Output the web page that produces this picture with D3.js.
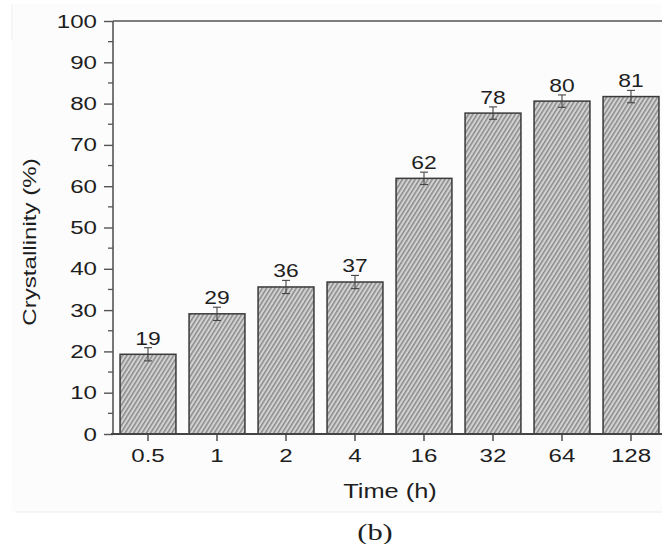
<!DOCTYPE html>
<html>
<head>
  <meta charset="utf-8" />
  <title>Crystallinity vs time</title>
  <script src="https://d3js.org/d3.v7.min.js"></script>
</head>
<body>
  <div id='graph'></div>
</body>
<style>
  body { margin: 0; background: #fff; }
  svg { display: block; }
  text { font-family: 'Liberation Sans', Arial, sans-serif; fill: #1e1e1e; }
</style>
<script>
  // data
  var times = ['0.5', '1', '2', '4', '16', '32', '64', '128']
  var crystallinity = [19.3, 29.1, 35.6, 36.8, 61.9, 77.7, 80.6, 81.7]
  var errors = [1.6, 1.6, 1.6, 1.6, 1.5, 1.5, 1.5, 1.5]
  var barLabels = ['19', '29', '36', '37', '62', '78', '80', '81']
  var yTicks = [0, 10, 20, 30, 40, 50, 60, 70, 80, 90, 100]

  var W = 662, H = 544
  var plotLeft = 113, plotTop = 21, plotBottom = 434
  var stretch = 1.27   // the scanned figure is wider than tall

  const svg = d3.select('#graph').append('svg')
    .attr('width', W)
    .attr('height', H)

  // faint scan background
  svg.append('rect')
    .attr('x', 12).attr('y', 4).attr('width', W - 12).attr('height', 508)
    .attr('fill', '#fcfcfc')
  svg.append('line')
    .attr('x1', 15).attr('x2', W).attr('y1', 512).attr('y2', 512)
    .attr('stroke', '#ececec').attr('stroke-width', 1)
  svg.append('line')
    .attr('x1', 12).attr('x2', 12).attr('y1', 4).attr('y2', 40)
    .attr('stroke', '#eeeeee').attr('stroke-width', 1)

  // hatch pattern for bars
  const defs = svg.append('defs')
  const pat = defs.append('pattern')
    .attr('id', 'hatch')
    .attr('patternUnits', 'userSpaceOnUse')
    .attr('width', 3.6).attr('height', 3.6)
    .attr('patternTransform', 'rotate(-58)')
  pat.append('rect').attr('width', 3.6).attr('height', 3.6).attr('fill', '#d2d2d2')
  pat.append('rect').attr('width', 3.6).attr('height', 1.5).attr('fill', '#8a8a8a')

  var x = d3.scaleBand()
    .domain(times)
    .range([113.5, 665.5])
    .paddingInner(0.19)
    .paddingOuter(0.095)

  var y = d3.scaleLinear()
    .domain([0, 100])
    .range([plotBottom, plotTop])

  // stretched text helper
  function label(px, py, str, size, rotate) {
    return svg.append('text')
      .attr('transform', 'translate(' + px + ',' + py + ')' + (rotate ? ' rotate(-90)' : '') + ' scale(' + stretch + ',1)')
      .attr('text-anchor', 'middle')
      .attr('font-size', size)
      .text(str)
  }

  // top frame line
  svg.append('line')
    .attr('x1', plotLeft).attr('x2', W).attr('y1', plotTop).attr('y2', plotTop)
    .attr('stroke', '#555').attr('stroke-width', 1.6)

  // bars
  svg.selectAll('rect.bar')
    .data(crystallinity)
    .enter()
    .append('rect')
    .attr('class', 'bar')
    .attr('x', function (d, i) { return x(times[i]) })
    .attr('y', function (d) { return y(d) })
    .attr('width', x.bandwidth())
    .attr('height', function (d) { return y(0) - y(d) })
    .attr('fill', 'url(#hatch)')
    .attr('stroke', '#3a3a3a')
    .attr('stroke-width', 1.5)

  // error bars
  const err = svg.append('g').attr('stroke', '#444').attr('stroke-width', 1.1)
  crystallinity.forEach(function (d, i) {
    var cx = x(times[i]) + x.bandwidth() / 2
    err.append('line')
      .attr('x1', cx).attr('x2', cx)
      .attr('y1', y(d - errors[i])).attr('y2', y(d + errors[i]))
    ;[d - errors[i], d + errors[i]].forEach(function (v) {
      err.append('line')
        .attr('x1', cx - 4).attr('x2', cx + 4)
        .attr('y1', y(v)).attr('y2', y(v))
    })
  })

  // value labels
  crystallinity.forEach(function (d, i) {
    label(x(times[i]) + x.bandwidth() / 2, y(d + errors[i]) - 3, barLabels[i], 18)
  })

  // y axis
  const yAxis = svg.append('g')
    .attr('transform', 'translate(' + plotLeft + ',0)')
    .call(d3.axisLeft(y).tickValues(yTicks).tickSize(9).tickPadding(5))
  yAxis.select('.domain').attr('stroke', '#555').attr('stroke-width', 1.6)
    .attr('d', 'M0,' + plotTop + 'V' + plotBottom)
  yAxis.selectAll('.tick line').attr('stroke', '#555').attr('stroke-width', 1.4)
  yAxis.selectAll('.tick text')
    .attr('font-size', 19)
    .attr('font-family', "'Liberation Sans', Arial, sans-serif").attr('fill', '#1e1e1e')
    .attr('x', -16 / stretch)
    .attr('transform', 'scale(' + stretch + ',1)')

  // minor ticks
  svg.append('g')
    .selectAll('line')
    .data(d3.range(5, 100, 10))
    .enter()
    .append('line')
    .attr('x1', plotLeft - 5).attr('x2', plotLeft)
    .attr('y1', function (d) { return y(d) })
    .attr('y2', function (d) { return y(d) })
    .attr('stroke', '#555').attr('stroke-width', 1.3)

  // x axis
  const xAxis = svg.append('g')
    .attr('transform', 'translate(0,' + plotBottom + ')')
    .call(d3.axisBottom(x).tickSize(7).tickPadding(8))
  xAxis.select('.domain').attr('stroke', '#444').attr('stroke-width', 1.8)
    .attr('d', 'M' + (plotLeft - 2) + ',0H' + W)
  xAxis.selectAll('.tick line').attr('stroke', '#444').attr('stroke-width', 1.4)
  xAxis.selectAll('.tick text')
    .attr('font-size', 19)
    .attr('font-family', "'Liberation Sans', Arial, sans-serif").attr('fill', '#1e1e1e')
    .attr('transform', 'scale(' + stretch + ',1)')

  // axis titles
  label(390, 498, 'Time (h)', 20)
  label(36, 242, 'Crystallinity (%)', 19, true)

  label(375, 540, '(b)', 24)
    .style('font-family', "'Liberation Serif', 'Times New Roman', serif")
</script>
</html>
